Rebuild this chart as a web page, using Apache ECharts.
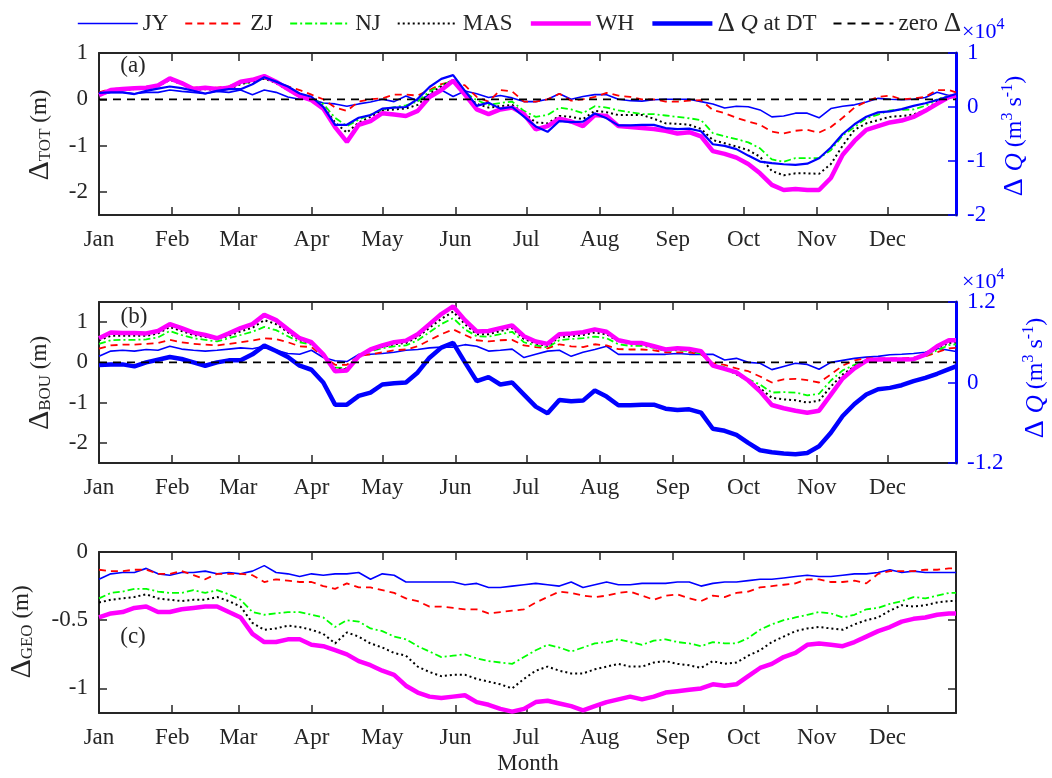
<!DOCTYPE html>
<html><head><meta charset="utf-8">
<script src="https://cdn.jsdelivr.net/npm/echarts@6/dist/echarts.min.js"></script>
<style>html,body{margin:0;padding:0;background:#fff}#c{width:1052px;height:778px}</style>
</head><body><div id="c"></div><script>
// ---- x grid (day of year, Jan 1 = 0) ----
const days = [0,5,10,15,20,25,30,35,40,45,50,55,60,65,70,75,80,85,90,95,100,105,110,115,120,125,130,135,140,145,150,155,160,165,170,175,180,185,190,195,200,205,210,215,220,225,230,235,240,245,250,255,260,265,270,275,280,285,290,295,300,305,310,315,320,325,330,335,340,345,350,355,360,363];
const monthStarts = [0,31,59,90,120,151,181,212,243,273,304,334];
const monthNames = ['Jan','Feb','Mar','Apr','May','Jun','Jul','Aug','Sep','Oct','Nov','Dec'];

// ---- panel (a) Delta_TOT (m) ----
const totJY = [0.1,0.15,0.15,0.12,0.15,0.15,0.2,0.17,0.15,0.12, 0.17,0.15,0.2,0.1,0.2,0.15,0.05,0.0,0.0,-0.08, -0.1,-0.15,-0.1,-0.06,0.0,-0.05,0.07,-0.03,0.1,0.2, 0.06,0.18,0.12,0.04,0.08,0.03,-0.05,-0.05,0.0,0.12, 0.0,0.06,0.1,0.1,0.0,-0.03,-0.04,-0.01,0.0,0.0, 0.0,-0.05,-0.1,-0.19,-0.15,-0.16,-0.23,-0.38,-0.36,-0.3, -0.3,-0.4,-0.2,-0.15,-0.12,-0.06,0.02,0.0,-0.01,0.0, 0.04,0.15,0.08,0.07];
const totZJ = [0.15,0.22,0.24,0.25,0.27,0.3,0.45,0.35,0.25,0.27, 0.25,0.28,0.38,0.4,0.45,0.38,0.28,0.2,0.1,0.0, -0.18,-0.25,-0.05,0.0,0.02,0.1,0.1,0.08,0.2,0.33, 0.38,0.3,0.05,-0.05,0.2,0.17,-0.05,-0.05,0.0,0.12, -0.03,0.0,0.05,0.14,0.08,0.05,0.0,0.0,-0.05,-0.05, -0.03,-0.02,-0.23,-0.3,-0.4,-0.48,-0.55,-0.7,-0.74,-0.68, -0.66,-0.72,-0.6,-0.4,-0.18,-0.05,0.05,0.08,0.0,0.02, 0.05,0.2,0.2,0.15];
const totNJ = [0.12,0.2,0.22,0.24,0.24,0.3,0.44,0.35,0.22,0.24, 0.22,0.24,0.33,0.38,0.45,0.36,0.22,0.06,0.02,-0.1, -0.4,-0.58,-0.44,-0.33,-0.23,-0.17,-0.13,-0.05,0.17,0.3, 0.42,0.15,-0.02,-0.12,-0.08,-0.05,-0.25,-0.38,-0.34,-0.18, -0.22,-0.3,-0.15,-0.18,-0.24,-0.28,-0.32,-0.32,-0.35,-0.38, -0.41,-0.45,-0.73,-0.8,-0.86,-0.93,-1.06,-1.3,-1.35,-1.27, -1.27,-1.27,-1.1,-0.78,-0.6,-0.41,-0.33,-0.24,-0.23,-0.22, -0.14,0.0,0.08,0.1];
const totMAS = [0.1,0.18,0.2,0.22,0.22,0.28,0.42,0.33,0.2,0.22, 0.2,0.22,0.33,0.38,0.45,0.35,0.2,0.05,0.0,-0.15, -0.5,-0.72,-0.5,-0.38,-0.24,-0.22,-0.2,-0.12,0.12,0.28, 0.42,0.12,-0.1,-0.18,-0.15,-0.12,-0.3,-0.5,-0.52,-0.36, -0.38,-0.43,-0.25,-0.28,-0.34,-0.34,-0.34,-0.42,-0.52,-0.53, -0.55,-0.64,-0.88,-0.95,-1.02,-1.1,-1.24,-1.55,-1.64,-1.6, -1.6,-1.61,-1.4,-1.0,-0.66,-0.52,-0.45,-0.38,-0.36,-0.33, -0.23,-0.05,0.05,0.08];
const totWH = [0.09,0.2,0.22,0.24,0.25,0.3,0.45,0.35,0.22,0.25, 0.22,0.25,0.38,0.42,0.5,0.38,0.22,0.07,-0.02,-0.2, -0.6,-0.92,-0.55,-0.47,-0.3,-0.33,-0.36,-0.25,0.05,0.2, 0.4,0.1,-0.22,-0.32,-0.22,-0.18,-0.32,-0.65,-0.58,-0.42, -0.48,-0.58,-0.34,-0.36,-0.58,-0.6,-0.62,-0.64,-0.68,-0.74, -0.71,-0.8,-1.12,-1.18,-1.26,-1.4,-1.6,-1.85,-1.96,-1.94, -1.96,-1.96,-1.7,-1.2,-0.9,-0.66,-0.58,-0.5,-0.46,-0.38, -0.25,-0.1,0.05,0.08];

// ---- Delta Q at DT (x10^4 m3 s-1), right axis of (a) and (b) ----
const dQ = [0.26,0.27,0.27,0.24,0.3,0.34,0.38,0.35,0.3,0.25, 0.3,0.33,0.33,0.42,0.55,0.47,0.38,0.25,0.19,0.0, -0.33,-0.33,-0.2,-0.15,-0.03,-0.01,0.0,0.15,0.37,0.52, 0.59,0.3,0.02,0.08,-0.03,0.0,-0.18,-0.36,-0.46,-0.26, -0.28,-0.27,-0.12,-0.21,-0.34,-0.34,-0.33,-0.33,-0.39,-0.41, -0.4,-0.45,-0.69,-0.72,-0.78,-0.9,-1.01,-1.04,-1.06,-1.07, -1.05,-0.95,-0.75,-0.5,-0.32,-0.18,-0.1,-0.08,-0.04,0.02, 0.07,0.13,0.2,0.24];

// ---- panel (b) Delta_BOU (m) ----
const bouJY = [0.15,0.28,0.3,0.28,0.32,0.3,0.4,0.33,0.3,0.28, 0.3,0.33,0.36,0.34,0.4,0.3,0.22,0.2,0.3,0.12, 0.04,0.02,0.2,0.2,0.22,0.25,0.3,0.32,0.36,0.38, 0.38,0.44,0.4,0.28,0.3,0.33,0.12,0.2,0.28,0.3, 0.15,0.25,0.32,0.4,0.2,0.2,0.2,0.2,0.2,0.22, 0.2,0.2,0.2,0.06,0.1,0.0,-0.02,-0.18,-0.1,-0.02, -0.05,-0.17,0.0,0.05,0.1,0.13,0.15,0.19,0.2,0.22, 0.25,0.35,0.3,0.27];
const bouZJ = [0.34,0.42,0.44,0.44,0.46,0.48,0.56,0.5,0.46,0.44, 0.42,0.46,0.5,0.54,0.6,0.58,0.5,0.4,0.38,0.15, -0.06,-0.06,0.16,0.2,0.25,0.3,0.32,0.4,0.55,0.7, 0.82,0.68,0.55,0.52,0.55,0.56,0.42,0.38,0.35,0.45, 0.4,0.38,0.45,0.42,0.33,0.32,0.32,0.3,0.25,0.25, 0.25,0.2,-0.02,-0.06,-0.15,-0.22,-0.35,-0.5,-0.42,-0.41, -0.44,-0.5,-0.3,-0.08,0.05,0.1,0.1,0.1,0.1,0.12, 0.15,0.25,0.35,0.36];
const bouNJ = [0.46,0.55,0.56,0.56,0.57,0.62,0.78,0.68,0.6,0.56, 0.52,0.6,0.68,0.76,0.88,0.8,0.65,0.5,0.44,0.18, -0.13,-0.14,0.17,0.28,0.35,0.4,0.42,0.55,0.75,0.95, 1.1,0.82,0.65,0.64,0.7,0.76,0.5,0.42,0.37,0.55, 0.58,0.6,0.64,0.6,0.45,0.41,0.41,0.36,0.28,0.3, 0.28,0.22,-0.06,-0.12,-0.28,-0.42,-0.55,-0.75,-0.74,-0.75, -0.82,-0.78,-0.45,-0.2,-0.06,0.05,0.07,0.07,0.07,0.1, 0.16,0.3,0.43,0.45];
const bouMAS = [0.55,0.66,0.66,0.66,0.66,0.72,0.88,0.78,0.68,0.63, 0.58,0.66,0.77,0.86,1.05,0.95,0.75,0.55,0.47,0.2, -0.15,-0.17,0.15,0.3,0.38,0.45,0.48,0.63,0.86,1.08, 1.26,0.95,0.7,0.7,0.78,0.85,0.58,0.47,0.41,0.63, 0.65,0.68,0.74,0.7,0.52,0.46,0.45,0.38,0.3,0.33, 0.3,0.25,-0.08,-0.14,-0.3,-0.45,-0.64,-0.88,-0.92,-0.94, -1.0,-0.95,-0.6,-0.3,-0.1,0.05,0.07,0.07,0.07,0.08, 0.17,0.35,0.48,0.5];
const bouWH = [0.6,0.74,0.73,0.73,0.72,0.78,0.95,0.85,0.74,0.68, 0.6,0.72,0.85,0.95,1.18,1.05,0.82,0.6,0.5,0.2, -0.22,-0.2,0.15,0.32,0.42,0.5,0.54,0.7,0.95,1.2, 1.39,1.05,0.77,0.78,0.85,0.92,0.65,0.52,0.46,0.7, 0.72,0.75,0.82,0.76,0.55,0.49,0.48,0.4,0.32,0.35, 0.33,0.28,-0.08,-0.16,-0.25,-0.45,-0.72,-1.06,-1.14,-1.2, -1.25,-1.2,-0.8,-0.4,-0.15,0.04,0.07,0.07,0.07,0.08, 0.19,0.4,0.55,0.55];

// ---- panel (c) Delta_GEO (m) ----
const geoJY = [-0.2,-0.16,-0.15,-0.15,-0.12,-0.16,-0.17,-0.15,-0.15,-0.14, -0.16,-0.15,-0.16,-0.14,-0.1,-0.15,-0.16,-0.18,-0.16,-0.17, -0.16,-0.16,-0.15,-0.2,-0.16,-0.17,-0.22,-0.22,-0.22,-0.22, -0.22,-0.24,-0.23,-0.26,-0.26,-0.25,-0.24,-0.23,-0.24,-0.25, -0.22,-0.26,-0.24,-0.22,-0.24,-0.24,-0.23,-0.23,-0.23,-0.22, -0.22,-0.25,-0.23,-0.22,-0.22,-0.21,-0.2,-0.2,-0.19,-0.18, -0.17,-0.18,-0.18,-0.17,-0.16,-0.16,-0.15,-0.13,-0.15,-0.14, -0.15,-0.15,-0.15,-0.15];
const geoZJ = [-0.13,-0.14,-0.14,-0.13,-0.13,-0.16,-0.16,-0.14,-0.17,-0.2, -0.16,-0.16,-0.16,-0.17,-0.22,-0.2,-0.21,-0.22,-0.22,-0.25, -0.27,-0.23,-0.26,-0.26,-0.28,-0.3,-0.34,-0.36,-0.4,-0.4, -0.41,-0.42,-0.42,-0.45,-0.44,-0.43,-0.42,-0.37,-0.33,-0.29, -0.3,-0.32,-0.33,-0.32,-0.3,-0.29,-0.32,-0.35,-0.32,-0.31, -0.34,-0.36,-0.32,-0.33,-0.3,-0.29,-0.26,-0.25,-0.24,-0.23, -0.2,-0.2,-0.22,-0.22,-0.21,-0.23,-0.16,-0.14,-0.14,-0.14, -0.13,-0.13,-0.12,-0.12];
const geoNJ = [-0.34,-0.3,-0.29,-0.27,-0.27,-0.29,-0.3,-0.3,-0.28,-0.3, -0.28,-0.31,-0.35,-0.44,-0.46,-0.45,-0.44,-0.44,-0.46,-0.48, -0.55,-0.5,-0.51,-0.56,-0.58,-0.62,-0.64,-0.69,-0.73,-0.77, -0.76,-0.75,-0.78,-0.8,-0.81,-0.82,-0.77,-0.72,-0.68,-0.7, -0.73,-0.7,-0.67,-0.66,-0.64,-0.66,-0.68,-0.65,-0.64,-0.66, -0.67,-0.69,-0.66,-0.67,-0.67,-0.63,-0.57,-0.53,-0.5,-0.48, -0.46,-0.44,-0.45,-0.48,-0.46,-0.42,-0.41,-0.38,-0.36,-0.33, -0.34,-0.32,-0.3,-0.3];
const geoMAS = [-0.37,-0.35,-0.34,-0.33,-0.31,-0.34,-0.35,-0.36,-0.35,-0.35, -0.33,-0.36,-0.4,-0.52,-0.57,-0.56,-0.54,-0.55,-0.57,-0.6, -0.67,-0.59,-0.62,-0.67,-0.7,-0.74,-0.76,-0.84,-0.88,-0.91, -0.9,-0.9,-0.93,-0.95,-0.97,-1.0,-0.93,-0.87,-0.84,-0.87, -0.89,-0.89,-0.86,-0.84,-0.82,-0.84,-0.84,-0.81,-0.8,-0.82, -0.83,-0.85,-0.8,-0.82,-0.81,-0.76,-0.72,-0.66,-0.62,-0.58, -0.56,-0.55,-0.56,-0.57,-0.53,-0.5,-0.48,-0.43,-0.39,-0.4, -0.39,-0.37,-0.36,-0.36];
const geoWH = [-0.48,-0.45,-0.44,-0.41,-0.4,-0.44,-0.44,-0.42,-0.41,-0.4, -0.4,-0.44,-0.48,-0.6,-0.66,-0.66,-0.64,-0.64,-0.68,-0.69, -0.72,-0.75,-0.8,-0.83,-0.87,-0.9,-0.98,-1.03,-1.06,-1.07, -1.06,-1.05,-1.1,-1.12,-1.15,-1.17,-1.15,-1.1,-1.09,-1.11, -1.13,-1.16,-1.13,-1.1,-1.08,-1.06,-1.08,-1.06,-1.03,-1.02, -1.01,-1.0,-0.97,-0.98,-0.97,-0.91,-0.85,-0.82,-0.77,-0.74, -0.68,-0.67,-0.68,-0.69,-0.66,-0.62,-0.58,-0.55,-0.51,-0.49, -0.48,-0.46,-0.45,-0.45];

// ---- axis tick values ----
const yTicksA = [-2,-1,0,1], yTicksAR = [-2,-1,0,1];
const yTicksB = [-2,-1,0,1], yTicksBR = [-1.2,0,1.2];
const yTicksC = [-1,-0.5,0];
const zeroLine = [[0,0],[363,0]];

const FF = "'Liberation Serif','Times New Roman',serif";
const TXT = '#262626', AX = '#262626', BLUE = '#0000FF';
const chart = echarts.init(document.getElementById('c'), null, {renderer:'canvas'});

function xAx(gi, pos){
  return {type:'value', gridIndex:gi, position:pos, min:0, max:363,
    axisLine:{show:true, onZero:false, lineStyle:{color:AX, width:2}},
    axisTick:{show:true, inside:true, length:8, customValues:monthStarts, lineStyle:{color:AX, width:1.5}},
    axisLabel:{show:pos==='bottom', customValues:monthStarts, formatter:v=>monthNames[monthStarts.indexOf(v)]||'',
      fontSize:23, fontFamily:FF, color:TXT, margin:13},
    splitLine:{show:false}, minorTick:{show:false}};
}
function yAx(gi, pos, min, max, ticks, color, showLabel, lw){
  return {type:'value', gridIndex:gi, position:pos, min:min, max:max,
    axisLine:{show:true, onZero:false, lineStyle:{color:color, width:lw}},
    axisTick:{show:true, inside:true, length:8, customValues:ticks, lineStyle:{color:color, width:1.5}},
    axisLabel:{show:showLabel, customValues:ticks, fontSize:23, fontFamily:FF, color:color===AX?TXT:color, margin:11,
      formatter:v=>String(v)},
    splitLine:{show:false}, minorTick:{show:false}};
}
const ST = {
  JY:{color:BLUE, width:1.6, type:'solid'},
  ZJ:{color:'#FF0000', width:1.8, type:[7,5]},
  NJ:{color:'#00FF00', width:1.8, type:[7,3,2,3]},
  MAS:{color:'#000000', width:2, type:[2,3]},
  WH:{color:'#FF00FF', width:4.5, type:'solid'},
  Q:{color:BLUE, width:4.5, type:'solid'},
  Z:{color:'#000000', width:1.8, type:[8,6]}
};
function pts(vals){ return days.map((d,i)=>[d, vals[i]]); }
function ser(name, data, xi, yi, st, w){
  return {name:name, type:'line', xAxisIndex:xi, yAxisIndex:yi, data:data, showSymbol:false, symbol:'none',
    smooth:false, clip:true, silent:true,
    lineStyle:{color:st.color, width:w||st.width, type:st.type, cap:'butt'}, itemStyle:{color:st.color}};
}
const QN = 'ΔQ at DT', ZN = 'zero Δ';
const series = [
  // panel (b) first so the legend takes its thick ΔQ line
  ser('JY', pts(bouJY), 1, 2, ST.JY), ser('ZJ', pts(bouZJ), 1, 2, ST.ZJ), ser('NJ', pts(bouNJ), 1, 2, ST.NJ),
  ser('MAS', pts(bouMAS), 1, 2, ST.MAS), ser('WH', pts(bouWH), 1, 2, ST.WH), ser(QN, pts(dQ), 1, 3, ST.Q),
  ser(ZN, zeroLine, 1, 2, ST.Z),
  // panel (a)
  ser('JY', pts(totJY), 0, 0, ST.JY), ser('ZJ', pts(totZJ), 0, 0, ST.ZJ), ser('NJ', pts(totNJ), 0, 0, ST.NJ),
  ser('MAS', pts(totMAS), 0, 0, ST.MAS), ser('WH', pts(totWH), 0, 0, ST.WH), ser(QN, pts(dQ), 0, 1, ST.Q, 2.2),
  ser(ZN, zeroLine, 0, 0, ST.Z),
  // panel (c)
  ser('JY', pts(geoJY), 2, 4, ST.JY), ser('ZJ', pts(geoZJ), 2, 4, ST.ZJ), ser('NJ', pts(geoNJ), 2, 4, ST.NJ),
  ser('MAS', pts(geoMAS), 2, 4, ST.MAS), ser('WH', pts(geoWH), 2, 4, ST.WH)
];

function vtext(x, y, text, rich, fill){
  return {type:'text', x:x, y:y, rotation:Math.PI/2, silent:true,
    style:{text:text, rich:rich, align:'center', verticalAlign:'middle', fill:fill, fontFamily:FF, fontSize:22}};
}
const leftRich = {d:{fontSize:30, fontFamily:FF, fill:TXT}, s:{fontSize:17, fontFamily:FF, fill:TXT, padding:[12,0,0,0]}, n:{fontSize:23, fontFamily:FF, fill:TXT}};
const rightRich = {d:{fontSize:28, fontFamily:FF, fill:BLUE}, q:{fontSize:25, fontFamily:FF, fontStyle:'italic', fill:BLUE},
  n:{fontSize:24, fontFamily:FF, fill:BLUE}, p:{fontSize:16, fontFamily:FF, fill:BLUE, padding:[0,0,14,0]}};
const expRich = {n:{fontSize:22, fontFamily:FF, fill:BLUE}, p:{fontSize:16, fontFamily:FF, fill:BLUE, padding:[0,0,14,0]}};
const graphic = [
  vtext(40, 135, '{d|Δ}{s|TOT}{n| (m)}', leftRich, TXT),
  vtext(40, 383, '{d|Δ}{s|BOU}{n| (m)}', leftRich, TXT),
  vtext(22, 632, '{d|Δ}{s|GEO}{n| (m)}', leftRich, TXT),
  vtext(1015, 136, '{d|Δ }{q|Q}{n| (m}{p|3}{n| s}{p|-1}{n|)}', rightRich, BLUE),
  vtext(1036, 378, '{d|Δ }{q|Q}{n| (m}{p|3}{n| s}{p|-1}{n|)}', rightRich, BLUE),
  {type:'text', x:962, y:32, silent:true, style:{text:'{n|×10}{p|4}', rich:expRich, align:'left', verticalAlign:'middle', fill:BLUE}},
  {type:'text', x:962, y:282, silent:true, style:{text:'{n|×10}{p|4}', rich:expRich, align:'left', verticalAlign:'middle', fill:BLUE}},
  {type:'text', x:133, y:66, silent:true, style:{text:'(a)', fontSize:23, fontFamily:FF, fill:TXT, align:'center', verticalAlign:'middle'}},
  {type:'text', x:134, y:317, silent:true, style:{text:'(b)', fontSize:23, fontFamily:FF, fill:TXT, align:'center', verticalAlign:'middle'}},
  {type:'text', x:133, y:637, silent:true, style:{text:'(c)', fontSize:23, fontFamily:FF, fill:TXT, align:'center', verticalAlign:'middle'}},
  {type:'text', x:528, y:764, silent:true, style:{text:'Month', fontSize:23, fontFamily:FF, fill:TXT, align:'center', verticalAlign:'middle'}}
];

chart.setOption({
  animation:false,
  backgroundColor:'#ffffff',
  grid:[{left:99, top:53, width:857, height:162}, {left:99, top:302, width:857, height:161}, {left:99, top:552, width:857, height:161}],
  xAxis:[xAx(0,'bottom'), xAx(1,'bottom'), xAx(2,'bottom'), xAx(0,'top'), xAx(1,'top'), xAx(2,'top')],
  yAxis:[
    yAx(0,'left',-2.5,1,yTicksA,AX,true,2), yAx(0,'right',-2,1,yTicksAR,BLUE,true,3),
    yAx(1,'left',-2.5,1.5,yTicksB,AX,true,2), yAx(1,'right',-1.2,1.2,yTicksBR,BLUE,true,3),
    yAx(2,'left',-1.18,0,yTicksC,AX,true,2), yAx(2,'right',-1.18,0,yTicksC,AX,false,2)
  ],
  legend:{show:true, left:72, top:5, orient:'horizontal', itemWidth:60, itemHeight:14, itemGap:16, selectedMode:false,
    itemStyle:{opacity:0}, lineStyle:{width:'inherit'},
    data:['JY','ZJ','NJ','MAS','WH',QN,ZN],
    textStyle:{fontSize:23, fontFamily:FF, color:TXT, rich:{d:{fontSize:27, fontFamily:FF, color:TXT}, q:{fontSize:24, fontFamily:FF, fontStyle:'italic', color:TXT}}},
    formatter:n=>n===QN?'{d|Δ} {q|Q} at DT':(n===ZN?'zero {d|Δ}':n)},
  tooltip:{show:false},
  series:series,
  graphic:graphic
});
</script></body></html>
